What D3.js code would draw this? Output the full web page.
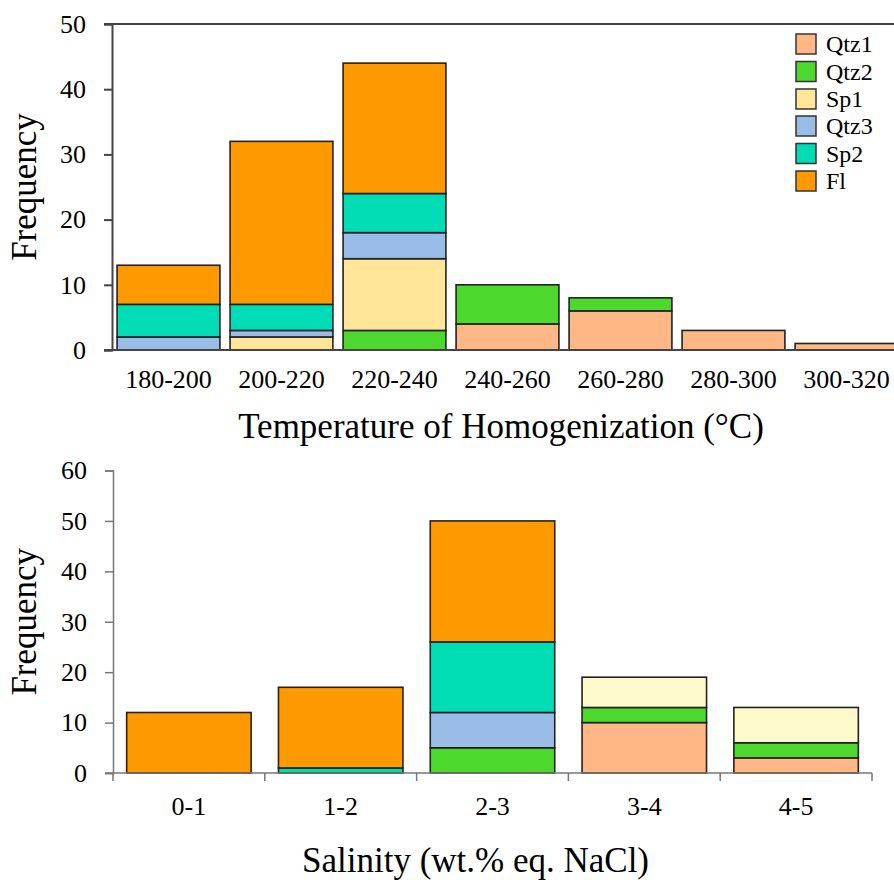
<!DOCTYPE html>
<html>
<head>
<meta charset="utf-8">
<script src="https://cdn.jsdelivr.net/npm/d3@7"></script>
<style>
  body { margin: 0; background: #fff; }
  svg { display: block; font-family: "Liberation Serif", "Times New Roman", serif; }
</style>
</head>
<body>
<svg id="chart" width="894" height="880"></svg>
<script>
// series, stacked bottom to top
var keys = ["Qtz1", "Qtz2", "Sp1", "Qtz3", "Sp2", "Fl"];

// top panel: homogenization temperature
var thCats = ["180-200", "200-220", "220-240", "240-260", "260-280", "280-300", "300-320"];
var thQtz1 = [0, 0, 0, 4, 6, 3, 1];
var thQtz2 = [0, 0, 3, 6, 2, 0, 0];
var thSp1  = [0, 2, 11, 0, 0, 0, 0];
var thQtz3 = [2, 1, 4, 0, 0, 0, 0];
var thSp2  = [5, 4, 6, 0, 0, 0, 0];
var thFl   = [6, 25, 20, 0, 0, 0, 0];
var thTicks = [0, 10, 20, 30, 40, 50];

// bottom panel: salinity
var salCats = ["0-1", "1-2", "2-3", "3-4", "4-5"];
var salQtz1 = [0, 0, 0, 10, 3];
var salQtz2 = [0, 0, 5, 3, 3];
var salSp1  = [0, 0, 0, 6, 7];
var salQtz3 = [0, 0, 7, 0, 0];
var salSp2  = [0, 1, 14, 0, 0];
var salFl   = [12, 16, 24, 0, 0];
var salTicks = [0, 10, 20, 30, 40, 50, 60];

var colTop = { Qtz1: "#ffb885", Qtz2: "#4cd82c", Sp1: "#ffe699", Qtz3: "#99bde6", Sp2: "#00ddb5", Fl: "#ff9900" };
var colBot = { Qtz1: "#ffb885", Qtz2: "#4cd82c", Sp1: "#fffacb", Qtz3: "#99bde6", Sp2: "#00ddb5", Fl: "#ff9900" };

function rows(cats, cols) {
  return cats.map(function(c, i) {
    var r = { cat: c };
    keys.forEach(function(k, j) { r[k] = cols[j][i]; });
    return r;
  });
}

var svg = d3.select("#chart");

function panel(o) {
  var data = rows(o.cats, o.cols);
  var x = d3.scaleBand().domain(o.cats).range([o.left, o.right])
      .paddingInner(o.pad).paddingOuter(o.pad / 2);
  var y = d3.scaleLinear().domain([0, o.max]).range([o.bottom, o.top]);
  var series = d3.stack().keys(keys)(data);

  var g = svg.append("g");

  g.selectAll("g.s")
    .data(series)
    .enter().append("g")
      .attr("fill", function(s) { return o.colors[s.key]; })
    .selectAll("rect")
    .data(function(s) { return s.filter(function(d) { return d[1] > d[0]; }); })
    .enter().append("rect")
      .attr("x", function(d) { return x(d.data.cat); })
      .attr("y", function(d) { return y(d[1]); })
      .attr("width", x.bandwidth())
      .attr("height", function(d) { return y(d[0]) - y(d[1]); })
      .attr("stroke", "#222")
      .attr("stroke-width", 1.6);

  // y axis
  var ya = g.append("g")
      .attr("transform", "translate(" + o.left + ",0)")
      .call(d3.axisLeft(y).tickValues(o.ticks).tickSize(8).tickPadding(18));
  ya.select(".domain").attr("stroke", o.axisCol).attr("stroke-width", o.axisW);
  ya.selectAll(".tick line").attr("stroke", o.axisCol).attr("stroke-width", o.axisW);
  ya.selectAll(".tick text").attr("font-size", 26).attr("fill", "#000")
      .attr("font-family", "Liberation Serif");

  // x axis
  var xa = g.append("g")
      .attr("transform", "translate(0," + o.bottom + ")")
      .call(d3.axisBottom(x).tickSize(0).tickSizeOuter(0).tickPadding(o.labPad));
  xa.select(".domain").attr("stroke", o.axisCol).attr("stroke-width", o.axisW)
      .attr("d", "M" + (o.left - 8) + ",0H" + o.right);
  xa.selectAll(".tick text").attr("font-size", 26).attr("fill", "#000")
      .attr("font-family", "Liberation Serif");

  if (o.catTicks) {
    var edges = o.cats.map(function(c) { return x(c) - x.step() * x.paddingInner() / 2; });
    edges.push(o.right);
    g.selectAll("line.ct")
      .data(edges)
      .enter().append("line")
        .attr("x1", function(d) { return d; })
        .attr("x2", function(d) { return d; })
        .attr("y1", o.bottom)
        .attr("y2", o.bottom + 8)
        .attr("stroke", o.axisCol)
        .attr("stroke-width", o.axisW);
  }

  if (o.frame) {
    g.append("line")
      .attr("x1", o.left - 8).attr("x2", 894)
      .attr("y1", y(o.max)).attr("y2", y(o.max))
      .attr("stroke", o.axisCol).attr("stroke-width", o.axisW);
  }

  g.append("text")
    .attr("transform", "translate(" + 36 + "," + ((o.top + o.bottom) / 2) + ") rotate(-90)")
    .attr("text-anchor", "middle")
    .attr("font-size", 35)
    .text("Frequency");

  g.append("text")
    .attr("x", (o.left + Math.min(o.right, 894)) / 2 + o.titleShift)
    .attr("y", o.titleY)
    .attr("text-anchor", "middle")
    .attr("font-size", 35)
    .text(o.title);

  return { x: x, y: y, g: g };
}

panel({
  cats: thCats, cols: [thQtz1, thQtz2, thSp1, thQtz3, thSp2, thFl],
  left: 112, right: 903, top: 24, bottom: 350, max: 50, ticks: thTicks,
  pad: 0.09, colors: colTop, axisCol: "#444", axisW: 2, labPad: 20,
  frame: true, catTicks: false,
  title: "Temperature of Homogenization (°C)", titleY: 438, titleShift: -2
});

panel({
  cats: salCats, cols: [salQtz1, salQtz2, salSp1, salQtz3, salSp2, salFl],
  left: 113, right: 872, top: 470.5, bottom: 773, max: 60, ticks: salTicks,
  pad: 0.18, colors: colBot, axisCol: "#777", axisW: 1.5, labPad: 24,
  frame: false, catTicks: true,
  title: "Salinity (wt.% eq. NaCl)", titleY: 872, titleShift: -17
});

// legend for top panel
var lg = svg.append("g").attr("transform", "translate(796,0)");
var legY = [44, 71.5, 99, 126, 153.5, 181];
keys.forEach(function(k, i) {
  lg.append("rect")
    .attr("x", 0).attr("y", legY[i] - 10)
    .attr("width", 20).attr("height", 20)
    .attr("fill", colTop[k]).attr("stroke", "#333").attr("stroke-width", 1.5);
  lg.append("text")
    .attr("x", 30).attr("y", legY[i] + 8)
    .attr("font-size", 24)
    .text(k);
});
</script>
</body>
</html>
